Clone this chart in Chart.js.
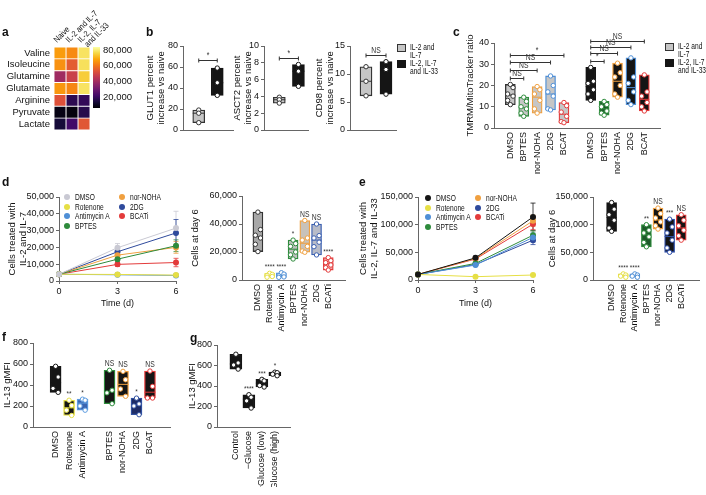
<!DOCTYPE html>
<html><head><meta charset="utf-8">
<script src="https://cdn.jsdelivr.net/npm/chart.js@4.4.1/dist/chart.umd.min.js"></script>
<style>
body{margin:0;background:#fff;width:706px;height:495px;overflow:hidden;position:relative;font-family:'Liberation Sans',Arial,sans-serif;color:#111}
canvas{position:absolute;left:0;top:0}
.t{position:absolute;white-space:nowrap;font-size:8.5px;line-height:8px;transform:scaleX(0.78);transform-origin:0 0}
.L{position:absolute;font-weight:bold;font-size:12px;line-height:12px}
.sq{position:absolute;width:7px;height:6px;border:1px solid #333}
.dot{position:absolute;width:6px;height:6px;border-radius:50%}
</style></head><body>
<script>
// ---- a: heatmap
const heatRows = ['Valine','Isoleucine','Glutamine','Glutamate','Arginine','Pyruvate','Lactate'];
const heatCols = ['Naive','IL-2 and IL-7',['IL-2, IL-7','and IL-33']];
const heatNaive = [66800,65000,39500,66000,52800,8300,13800];
const heatIL27  = [63700,55000,48000,63000,17700,7500,21600];
const heatIL733 = [78500,78000,74600,78500,19000,17000,54000];
const cbarMin = 6000, cbarMax = 84000;
const cbarTicks = [20000,40000,60000,80000];

// ---- b: transporters (points per group)
const bGroups = ['IL-2 and IL-7','IL-2, IL-7 and IL-33'];
const glut1 = [[19,16,7],[59,45,33]];
const asct2 = [[3.9,3.6,3.2],[7.8,7.0,5.2]];
const cd98  = [[11.3,8.7,6.1],[12.2,10.8,6.4]];

// ---- c: TMRM/MitoTracker
const cDrugs = ['DMSO','BPTES','nor-NOHA','2DG','BCAT'];
const cIL27 = [[20.5,19,16,15,13,11],[14.5,12.5,10,9,7,5.5],[19.5,18,16,13,9,7],[24.5,20,17,15,9,8.5],[12,10.5,7.5,5.5,3,2.5]];
const cIL733 = [[28.5,22,21,18,16,13],[12.5,11,10,8,7,6],[30.5,26,24,20,16,14.5],[33,24,21,17,13,11],[25,17,15,12,10,8]];
const cBrackets = [
  {a:0,b:1,y:23.5,t:'NS'},{a:0,b:2,y:27.3,t:'NS'},{a:0,b:3,y:31,t:'NS'},{a:0,b:4,y:34.4,t:'*'},
  {a:6,b:7,y:31.5,t:'*'},{a:6,b:8,y:35.3,t:'NS'},{a:6,b:9,y:38,t:'NS'},{a:6,b:10,y:41,t:'NS'}
];

// ---- d/e: growth
const days = [0,3,6];
const drugs = ['DMSO','Rotenone','Antimycin A','BPTES','nor-NOHA','2DG','BCATi'];
const dLines = [[4000,19800,31500],[4000,3900,3500],[4000,3700,3300],[4000,13000,21000],[4000,15400,20000],[4000,17400,28600],[4000,9900,11000]];
const dErr = [[0,2500,10000],[0,400,500],[0,400,500],[0,1500,3500],[0,1500,3500],[0,1500,8000],[0,1200,2500]];
const dDay6 = [
  [48500,36000,32000,30000,25500,20300],
  [4800,4000,3300,2500,2000],
  [5200,4200,3000,2200,1900],
  [28500,26000,24000,20000,18000,15000],
  [42500,30000,28500,24000,20700,19800],
  [40000,31700,30000,27000,23800,17900],
  [16000,13800,12400,10700,8800,7100]
];
const dSig = ['','****','****','*','NS','NS','****'];

const eLines = [[10000,40000,114000],[10000,6000,9000],[10000,27000,77000],[10000,30000,81000],[10000,39000,107000],[10000,28000,72000],[10000,38000,101000]];
const eErr = [[0,3000,25000],[0,500,1000],[0,2000,8000],[0,2000,8000],[0,2000,10000],[0,2000,8000],[0,2000,10000]];
const eDay6 = [
  [140000,128000,118000,108000,94000,88000],
  [11000,9000,7000,5000],
  [11000,9000,7000,5000],
  [100000,90000,85000,78000,68000,60000],
  [130000,120000,112000,105000,98000,92000],
  [110000,96000,85000,72000,58000,50000],
  [118000,108000,98000,90000,80000,72000]
];
const eSig = ['','****','****','**','NS','***','NS'];

// ---- f/g: IL-13
const fDrugs = ['DMSO','Rotenone','Antimycin A','','BPTES','nor-NOHA','2DG','BCAT'];
const fVals = [[578,476,368,330],[255,205,160,110],[265,255,200,160],null,[540,350,325,222],[530,450,362,292],[275,220,200,117],[533,387,276,276]];
const fSig = ['','**','*','','NS','NS','*','NS'];
const gConds = ['Control','\u2212Glucose','+Glucose (low)','+Glucose (high)'];
const gVals = [[710,625,605,565],[315,290,255,185],[465,450,405,390],[535,530,515,500]];
const gSig = ['','****','***','*'];

// ---- styling
const W = 706, H = 495, AX = '#666';
const FONT = "'Liberation Sans', Arial, sans-serif";
const K = '#151515', GR = '#c6c6c6';
const YEL = '#e6df45', BLU = '#4f8fd6', GRN = '#2e8b3c', ORG = '#f0a040', NAV = '#2f4a9c', RED = '#e33b3b';
const JIT = [0, 3, -3, 3, -3, 0];

Chart.defaults.font.family = FONT;
Chart.defaults.font.size = 9;
Chart.defaults.color = '#111';
Chart.defaults.animation = false;
Chart.defaults.plugins.legend.display = false;
Chart.defaults.plugins.tooltip.enabled = false;

function mk() {
  const c = document.createElement('canvas');
  c.width = W; c.height = H; c.style.width = W + 'px'; c.style.height = H + 'px';
  document.body.appendChild(c);
  return c;
}
function frame(area, titleLeft, xH) {
  return {pad: {left: titleLeft, top: area.t, right: W - area.r, bottom: H - area.b - xH}, yW: area.l - titleLeft, xH};
}
function yAxis(f, max, step, title) {
  return {
    min: 0, max,
    ticks: {stepSize: step, padding: 2},
    grid: {drawOnChartArea: false, tickLength: 3, tickColor: AX},
    border: {color: AX},
    title: {display: !!title, text: title, padding: 0, font: {size: 9.5, lineHeight: 1.15}},
    afterFit: s => { s.width = f.yW; }
  };
}
function median(v) {
  const s = v.slice().sort((p, q) => p - q), n = s.length;
  return n % 2 ? s[(n - 1) / 2] : (s[n / 2 - 1] + s[n / 2]) / 2;
}
function inferno(v) {
  const st = ['#000004','#160b39','#420a68','#6a176e','#932667','#bc3754','#dd513a','#f37819','#fca50a','#f6d746','#fcffa4'];
  let t = Math.min(1, Math.max(0, (v - cbarMin) / (cbarMax - cbarMin))) * 10;
  const i = Math.min(9, Math.floor(t)), r = t - i;
  const a = st[i], b = st[i + 1];
  const ch = (h, k) => parseInt(h.substr(1 + 2 * k, 2), 16);
  return 'rgb(' + [0, 1, 2].map(k => Math.round(ch(a, k) + (ch(b, k) - ch(a, k)) * r)).join(',') + ')';
}
// condensed annotation text
function ntext(ctx, s, x, y, size) {
  ctx.save();
  ctx.translate(x, y); ctx.scale(0.8, 1);
  ctx.font = size + 'px ' + FONT;
  ctx.fillText(s, 0, 0);
  ctx.restore();
}

// box + dots chart on a linear x axis
function boxChart(o) {
  const f = frame(o.area, o.titleLeft, 60);
  const ppu = (o.area.r - o.area.l) / (o.xmax - o.xmin);
  const boxes = [], pts = [];
  o.vals.forEach((v, i) => {
    if (!v) return;
    boxes.push({x: i, y: [Math.min(...v), Math.max(...v)]});
    v.forEach((y, j) => pts.push({x: i + (o.jit === false ? 0 : JIT[j % JIT.length] / ppu), y, i}));
  });
  const anno = {
    id: 'anno',
    afterDatasetDraw(chart, args) {
      if (args.meta.type !== 'bar') return;
      const {ctx, scales: {x, y}} = chart;
      ctx.save(); ctx.lineWidth = 1;
      boxes.forEach(b => {
        const px = x.getPixelForValue(b.x), py = y.getPixelForValue(median(o.vals[b.x]));
        ctx.strokeStyle = o.edge[b.x];
        ctx.beginPath(); ctx.moveTo(px - o.bw / 2, py); ctx.lineTo(px + o.bw / 2, py); ctx.stroke();
      });
      ctx.restore();
    },
    afterDraw(chart) {
      const {ctx, scales: {x, y}} = chart;
      ctx.save();
      ctx.fillStyle = ctx.strokeStyle = '#333';
      ctx.textAlign = 'center'; ctx.textBaseline = 'bottom';
      (o.sig || []).forEach((s, i) => {
        if (!s) return;
        ntext(ctx, s, x.getPixelForValue(i), y.getPixelForValue(Math.max(...o.vals[i])) - 2, s === 'NS' ? 8.5 : 8);
      });
      ctx.lineWidth = 1;
      (o.brackets || []).forEach(b => {
        const x1 = x.getPixelForValue(b.a), x2 = x.getPixelForValue(b.b), py = Math.round(y.getPixelForValue(b.y)) + 0.5;
        ctx.beginPath();
        ctx.moveTo(x1, py - 2); ctx.lineTo(x1, py + 2);
        ctx.moveTo(x1, py); ctx.lineTo(x2, py);
        ctx.moveTo(x2, py - 2); ctx.lineTo(x2, py + 2);
        ctx.stroke();
        ntext(ctx, b.t, (x1 + x2) / 2, py - 0.5, 8.5);
      });
      ctx.restore();
    }
  };
  new Chart(mk(), {
    type: 'bar',
    data: {datasets: [
      {type: 'scatter', data: pts, order: 0, clip: false, pointRadius: 2.2, pointBorderWidth: 1,
       pointBackgroundColor: '#fff', pointBorderColor: pts.map(p => o.edge[p.i])},
      {type: 'bar', data: boxes, order: 1, clip: false, barThickness: o.bw, borderWidth: 1.3, borderSkipped: false,
       backgroundColor: boxes.map(b => o.fill[b.x]), borderColor: boxes.map(b => o.edge[b.x])}
    ]},
    options: {
      responsive: false, locale: 'en-US',
      layout: {padding: f.pad},
      scales: {
        x: {type: 'linear', min: o.xmin, max: o.xmax,
            afterBuildTicks: s => { s.ticks = o.names.map((n, i) => ({value: i})).filter(t => o.names[t.value]); },
            ticks: {autoSkip: false, minRotation: 90, maxRotation: 90, padding: 4, callback: v => o.names[v] || ''},
            grid: {display: false, drawTicks: false}, border: {color: AX},
            afterFit: s => { s.height = f.xH; }},
        y: yAxis(f, o.ymax, o.ystep, o.title)
      }
    },
    plugins: [anno]
  });
}

function lineChart(o) {
  const f = frame(o.area, o.titleLeft, o.xH);
  const err = {
    id: 'err',
    beforeDatasetsDraw(chart) {
      const {ctx, scales: {x, y}} = chart;
      ctx.save(); ctx.lineWidth = 0.8;
      o.err.forEach((e, k) => e.forEach((v, j) => {
        if (!v) return;
        const px = x.getPixelForValue(days[j]);
        const y1 = y.getPixelForValue(o.series[k][j] - v), y2 = y.getPixelForValue(o.series[k][j] + v);
        ctx.strokeStyle = o.colors[k];
        ctx.beginPath();
        ctx.moveTo(px, y1); ctx.lineTo(px, y2);
        ctx.moveTo(px - 2.5, y1); ctx.lineTo(px + 2.5, y1);
        ctx.moveTo(px - 2.5, y2); ctx.lineTo(px + 2.5, y2);
        ctx.stroke();
      }));
      ctx.restore();
    }
  };
  new Chart(mk(), {
    type: 'line',
    data: {datasets: o.series.map((s, k) => ({
      label: drugs[k],
      data: s.map((v, j) => ({x: days[j], y: v})),
      borderColor: o.colors[k], backgroundColor: o.colors[k],
      pointRadius: 3, pointBorderWidth: 0, borderWidth: 1, clip: false
    }))},
    options: {
      responsive: false, locale: 'en-US',
      layout: {padding: f.pad},
      scales: {
        x: {type: 'linear', min: 0, max: 6, ticks: {stepSize: 3, padding: 2},
            grid: {drawOnChartArea: false, tickLength: 3, tickColor: AX}, border: {color: AX},
            title: {display: true, text: 'Time (d)', padding: 0, font: {size: 9}},
            afterFit: s => { s.height = f.xH; }},
        y: yAxis(f, o.ymax, o.ystep, o.title)
      }
    },
    plugins: [err]
  });
}

// ---- a: heatmap
(function () {
  const f = frame({l: 54, r: 90, t: 47, b: 130}, 0, 0);
  const cols = [heatNaive, heatIL27, heatIL733];
  const heatLabels = {
    id: 'hl',
    afterDraw(chart) {
      const {ctx, scales: {x}, chartArea} = chart;
      ctx.save(); ctx.font = '8.5px ' + FONT; ctx.fillStyle = '#111'; ctx.textBaseline = 'alphabetic';
      heatCols.forEach((c, k) => {
        const lines = Array.isArray(c) ? c : [c];
        ctx.save();
        ctx.translate(x.getPixelForValue(k + 0.5) - 3, chartArea.top - 4);
        ctx.rotate(-Math.PI / 4);
        ctx.scale(0.85, 1);
        lines.forEach((l, j) => ctx.fillText(l, j * 2, j * 8));
        ctx.restore();
      });
      ctx.restore();
    }
  };
  new Chart(mk(), {
    type: 'bar',
    data: {labels: heatRows, datasets: cols.map(v => ({
      data: heatRows.map(() => 1), backgroundColor: v.map(inferno),
      borderColor: '#fff', borderWidth: 0.8, borderSkipped: false, barPercentage: 1, categoryPercentage: 1
    }))},
    options: {
      responsive: false, indexAxis: 'y',
      layout: {padding: f.pad},
      scales: {
        x: {stacked: true, min: 0, max: 3, display: false},
        y: {stacked: true, grid: {display: false, drawTicks: false}, border: {display: false},
            ticks: {autoSkip: false, padding: 4, font: {size: 9.5}}, afterFit: s => { s.width = f.yW; }}
      }
    },
    plugins: [heatLabels]
  });
  // colour bar
  new Chart(mk(), {
    type: 'bar',
    data: {labels: [''], datasets: [{
      data: [[cbarMin, cbarMax]], barPercentage: 1, categoryPercentage: 1,
      backgroundColor: c => {
        const a = c.chart.chartArea; if (!a) return '#888';
        const gr = c.chart.ctx.createLinearGradient(0, a.bottom, 0, a.top);
        for (let i = 0; i <= 20; i++) gr.addColorStop(i / 20, inferno(cbarMin + (cbarMax - cbarMin) * i / 20));
        return gr;
      }
    }]},
    options: {
      responsive: false, locale: 'en-US',
      layout: {padding: {left: 93, top: 47, right: W - 100 - 40, bottom: H - 108}},
      scales: {
        x: {display: false},
        y: {position: 'right', min: cbarMin, max: cbarMax,
            afterBuildTicks: s => { s.ticks = cbarTicks.map(v => ({value: v})); },
            grid: {display: false, drawTicks: false}, border: {display: false},
            ticks: {padding: 3, font: {size: 9.5}}, afterFit: s => { s.width = 40; }}
      }
    }
  });
})();

// ---- b
const bFill = [GR, K], bEdge = ['#333', K];
boxChart({area: {l: 183, r: 233, t: 46, b: 130}, titleLeft: 144.5, xmin: -0.85, xmax: 1.85, ymax: 80, ystep: 20,
  title: ['GLUT1 percent', 'increase vs naive'], names: ['', ''], vals: glut1, fill: bFill, edge: bEdge, bw: 12, jit: false,
  brackets: [{a: 0, b: 1, y: 67, t: '*'}]});
boxChart({area: {l: 264, r: 308, t: 46, b: 130}, titleLeft: 231.5, xmin: -0.8, xmax: 1.5, ymax: 10, ystep: 2,
  title: ['ASCT2 percent', 'increase vs naive'], names: ['', ''], vals: asct2, fill: bFill, edge: bEdge, bw: 12, jit: false,
  brackets: [{a: 0, b: 1, y: 8.6, t: '*'}]});
boxChart({area: {l: 350, r: 396, t: 46, b: 130}, titleLeft: 313.5, xmin: -0.8, xmax: 1.5, ymax: 15, ystep: 5,
  title: ['CD98 percent', 'increase vs naive'], names: ['', ''], vals: cd98, fill: bFill, edge: bEdge, bw: 12, jit: false,
  brackets: [{a: 0, b: 1, y: 13.4, t: 'NS'}]});

// ---- c
boxChart({area: {l: 494, r: 660, t: 43, b: 128}, titleLeft: 464.5, xmin: -0.6, xmax: 10.55, ymax: 40, ystep: 10,
  title: 'TMRM/MitoTracker ratio', names: [...cDrugs, '', ...cDrugs], vals: [...cIL27, null, ...cIL733],
  fill: [GR, GR, GR, GR, GR, '', K, '#1d5a2a', K, K, K],
  edge: ['#333', GRN, ORG, BLU, RED, '', K, GRN, ORG, BLU, RED], bw: 10, brackets: cBrackets});

// ---- d
const dColors = ['#c9c9d3', YEL, BLU, GRN, ORG, NAV, RED];
lineChart({area: {l: 59, r: 176, t: 197, b: 281}, titleLeft: 6.5, xH: 28.4, ymax: 50000, ystep: 10000,
  title: ['Cells treated with', 'IL-2 and IL-7'], series: dLines, err: dErr, colors: dColors});
boxChart({area: {l: 242, r: 345, t: 196, b: 280}, titleLeft: 189.5, xmin: -0.73, xmax: 6.8, ymax: 60000, ystep: 20000,
  title: 'Cells at day 6', names: drugs, vals: dDay6,
  fill: ['#a8a8a8', '#f3ee7a', '#a9c9f0', '#c0c0c0', '#c8c2ba', '#b8bcc8', '#f3a3a3'],
  edge: ['#333', YEL, BLU, GRN, ORG, '#3a5fb0', RED], bw: 10, sig: dSig});

// ---- e
const eColors = [K, YEL, BLU, GRN, ORG, NAV, RED];
lineChart({area: {l: 418, r: 533, t: 197, b: 280}, titleLeft: 357.5, xH: 29.4, ymax: 150000, ystep: 50000,
  title: ['Cells treated with', 'IL-2, IL-7 and IL-33'], series: eLines, err: eErr, colors: eColors});
boxChart({area: {l: 593, r: 699, t: 197, b: 280}, titleLeft: 546.5, xmin: -0.95, xmax: 6.88, ymax: 150000, ystep: 50000,
  title: 'Cells at day 6', names: drugs, vals: eDay6,
  fill: [K, '#f3ee7a', '#a9c9f0', '#1d5a2a', K, K, K],
  edge: [K, YEL, BLU, GRN, ORG, '#2f4fa8', RED], bw: 10, sig: eSig});

// ---- f
boxChart({area: {l: 33, r: 170, t: 343, b: 427}, titleLeft: 1.5, xmin: -0.95, xmax: 7.76, ymax: 800, ystep: 200,
  title: 'IL-13 gMFI', names: fDrugs, vals: fVals,
  fill: [K, K, '#3a64b0', '', K, K, '#1e2c66', K],
  edge: [K, YEL, '#5b9be0', '', GRN, ORG, '#3050a0', RED], bw: 11, sig: fSig});

// ---- g
boxChart({area: {l: 217, r: 290, t: 345, b: 427}, titleLeft: 186.5, xmin: -0.75, xmax: 3.46, ymax: 800, ystep: 200,
  title: 'IL-13 gMFI', names: gConds, vals: gVals, fill: [K, K, K, K], edge: [K, K, K, K], bw: 12, sig: gSig});

// ---- html text: panel letters and legends
function el(cls, x, y, html, css) {
  const d = document.createElement('div');
  d.className = cls; d.style.left = x + 'px'; d.style.top = y + 'px';
  if (html) d.innerHTML = html;
  if (css) Object.assign(d.style, css);
  document.body.appendChild(d);
}
[['a', 2, 26], ['b', 146, 26], ['c', 453, 26], ['d', 2, 176], ['e', 359, 176], ['f', 2, 331], ['g', 190, 332]]
  .forEach(([s, x, y]) => el('L', x, y, s));

function boxLegend(x, y) {
  el('sq', x, y, '', {background: GR});
  el('sq', x, y + 16, '', {background: K, borderColor: K});
  el('t', x + 13, y - 1, 'IL-2 and<br>IL-7');
  el('t', x + 13, y + 15, 'IL-2, IL-7<br>and IL-33');
}
boxLegend(397, 44);
boxLegend(665, 43);

function lineLegend(colors, x1, x2, y0) {
  drugs.forEach((n, k) => {
    const x = k < 4 ? x1 : x2, y = y0 + (k < 4 ? k : k - 4) * 9.7;
    el('dot', x - 3, y - 3, '', {background: colors[k]});
    el('t', x + 8, y - 4, n);
  });
}
lineLegend(dColors, 67, 122, 197);
lineLegend(eColors, 428, 478, 198);
</script>
</body></html>
